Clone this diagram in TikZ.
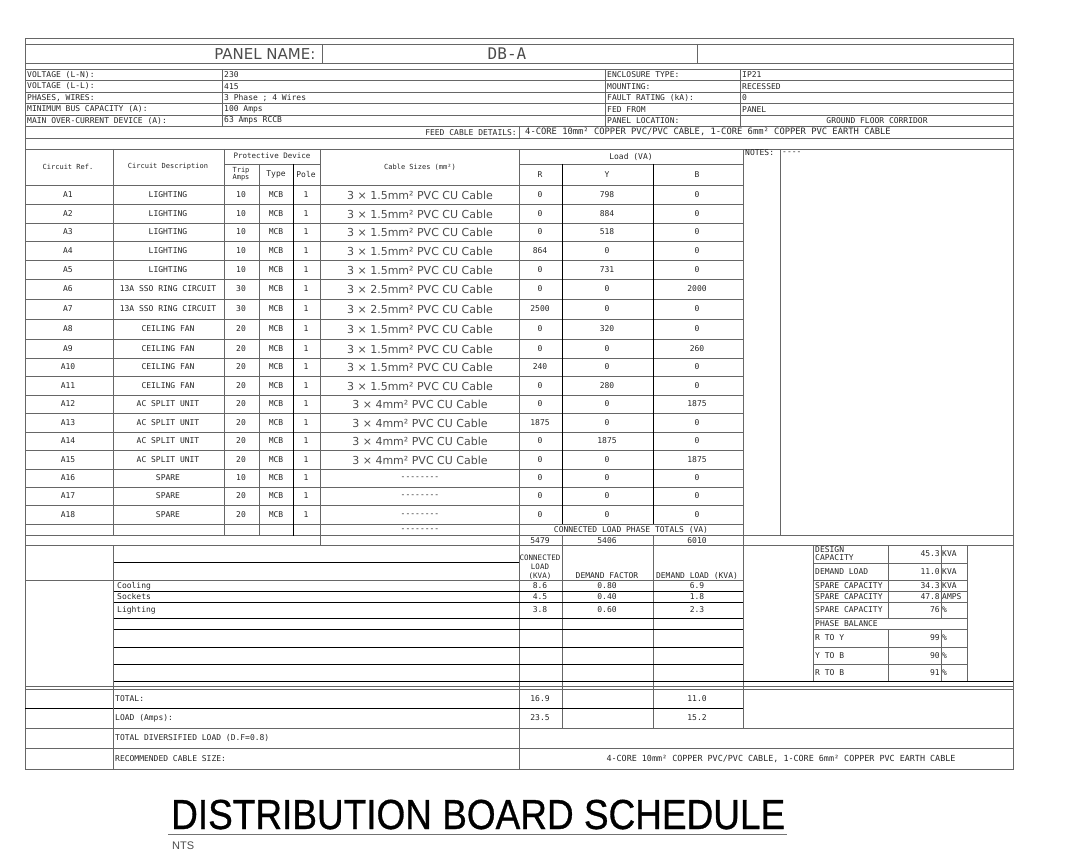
\documentclass[tikz,border=0pt]{standalone}
\usepackage{fontspec}
\setmainfont{DejaVu Sans}
\newfontfamily\cadfont{DejaVu Sans Mono}
\newfontfamily\titlefont[FakeBold=0.8]{Liberation Sans}
\newfontfamily\ntsfont{Liberation Sans}
\tikzset{
  cad/.style={font=\cadfont\fontsize{8}{9}\selectfont, text=black!85, inner sep=0pt},
  cadl/.style={cad, anchor=west},
  cadr/.style={cad, anchor=east},
  hdr/.style={font=\cadfont\fontsize{8}{9}\selectfont, text=black!85, inner sep=0pt, anchor=west},
  cable/.style={font=\fontsize{11}{12}\selectfont, text=black!70, inner sep=0pt},
  rule/.style={draw=black!60, line width=0.5pt},
  darkrule/.style={draw=black, line width=0.6pt}
}
\begin{document}
\begin{tikzpicture}[x=1pt,y=-1pt]
      \useasboundingbox (0,0) rectangle (1080,864);
      % frame and panel name
      \draw[rule] (25,38) rectangle (1013,769);
      \draw[rule] (25,44) -- (1013,44) (25,63) -- (1013,63) (25,69) -- (1013,69);
      \draw[rule] (322,44) -- (322,63) (697,44) -- (697,63);
      \draw
        (319,54) node[anchor=east, font=\fontsize{15}{16}\selectfont, text=black!70] (pname){PANEL NAME:}
        (507,54) node[font=\cadfont\fontsize{16}{17}\selectfont, text=black!70] (pdb){DB-A};
      % panel data
      \draw[rule] (25,80.5) -- (1013,80.5) (25,92) -- (1013,92) (25,103.5) -- (1013,103.5)
        (25,115) -- (1013,115) (25,126.5) -- (1013,126.5) (25,138) -- (1013,138);
      \draw[rule] (222,69) -- (222,126.5) (605,69) -- (605,126.5) (740,69) -- (740,126.5)
        (519,126.5) -- (519,138);
      \draw
        (27,74.75) node[hdr] (vln){VOLTAGE (L-N):}
        (27,86.25) node[hdr] (vll){VOLTAGE (L-L):}
        (27,97.75) node[hdr] (phw){PHASES, WIRES:}
        (27,109.25) node[hdr] (bus){MINIMUM BUS CAPACITY (A):}
        (27,120.75) node[hdr] (moc){MAIN OVER-CURRENT DEVICE (A):}
        (224,74.75) node[hdr] (vlnv){230}
        (224,86.25) node[hdr] (vllv){415}
        (224,97.75) node[hdr] (phwv){3 Phase ; 4 Wires}
        (224,109.25) node[hdr] (busv){100 Amps}
        (224,120.75) node[hdr] (mocv){63 Amps RCCB}
        (607,74.75) node[hdr] (enc){ENCLOSURE TYPE:}
        (607,86.25) node[hdr] (mnt){MOUNTING:}
        (607,97.75) node[hdr] (flt){FAULT RATING (kA):}
        (607,109.25) node[hdr] (fed){FED FROM}
        (607,120.75) node[hdr] (loc){PANEL LOCATION:}
        (742,74.75) node[hdr] (encv){IP21}
        (742,86.25) node[hdr] (mntv){RECESSED}
        (742,97.75) node[hdr] (fltv){0}
        (742,109.25) node[hdr] (fedv){PANEL}
        (877,120.75) node[hdr, anchor=center] (locv){GROUND FLOOR CORRIDOR}
        (517,132.25) node[hdr, anchor=east] (feed){FEED CABLE DETAILS:}
        (708,132.25) node[hdr, anchor=center, font=\cadfont\fontsize{8.8}{9}\selectfont] (feedv){4-CORE 10mm² COPPER PVC/PVC CABLE, 1-CORE 6mm² COPPER PVC EARTH CABLE};
      % circuit table grid
      \draw[rule] (25,149) -- (1013,149) (224,164) -- (320,164) (519,164) -- (743,164) (25,185) -- (743,185);
      \draw[rule] (25,204.5) -- (743,204.5) (25,223) -- (743,223) (25,241.5) -- (743,241.5)
        (25,260.5) -- (743,260.5) (25,279.5) -- (743,279.5) (25,299) -- (743,299)
        (25,319) -- (743,319) (25,339) -- (743,339) (25,358) -- (743,358)
        (25,376.5) -- (743,376.5) (25,395) -- (743,395) (25,413.5) -- (743,413.5)
        (25,432) -- (743,432) (25,450.5) -- (743,450.5) (25,469) -- (743,469)
        (25,487) -- (743,487) (25,505.5) -- (743,505.5) (25,524) -- (743,524)
        (25,535.5) -- (1013,535.5) (25,545) -- (1013,545);
      \draw[rule] (113,149) -- (113,535.5) (224,149) -- (224,535.5) (259,164) -- (259,535.5)
        (320,149) -- (320,545) (519,149) -- (519,769) (743,149) -- (743,728) (780,149) -- (780,535.5)
        (562,535.5) -- (562,728) (653,535.5) -- (653,728);
      \draw[darkrule] (293,164) -- (293,535.5) (562,164) -- (562,524) (653,164) -- (653,524);
      % table header
      \draw
        (68,167) node[cad, font=\cadfont\fontsize{7}{8}\selectfont] (href){Circuit Ref.}
        (168,167) node[cad, font=\cadfont\fontsize{7}{8}\selectfont] (hdesc){Circuit Description}
        (272,156) node[cad, font=\cadfont\fontsize{7.5}{8}\selectfont] (hprot){Protective Device}
        (241,174) node[cad, font=\cadfont\fontsize{7}{7}\selectfont, align=center] (htrip){Trip\\Amps}
        (276,174) node[cad] (htype){Type}
        (306,174) node[cad] (hpole){Pole}
        (420,167) node[cad, font=\cadfont\fontsize{7}{8}\selectfont] (hcable){Cable Sizes (mm²)}
        (631,157) node[cad] (hload){Load (VA)}
        (540,175) node[cad] (hr){R}
        (607,175) node[cad] (hy){Y}
        (697,175) node[cad] (hb){B}
        (745,153) node[cadl] (notes){NOTES:}
        (782,153) node[cadl] (notesv){----};
      % circuits
      \draw (68,195) node[cad] (a1ref){A1} (168,195) node[cad] (a1desc){LIGHTING} (241,195) node[cad] (a1trip){10} (276,195) node[cad] (a1type){MCB} (306,195) node[cad] (a1pole){1}
        (420,195) node[cable] (a1cable){3 × 1.5mm² PVC CU Cable} (540,195) node[cad] (a1r){0} (607,195) node[cad] (a1y){798} (697,195) node[cad] (a1b){0};
      \draw (68,214) node[cad] (a2ref){A2} (168,214) node[cad] (a2desc){LIGHTING} (241,214) node[cad] (a2trip){10} (276,214) node[cad] (a2type){MCB} (306,214) node[cad] (a2pole){1}
        (420,214) node[cable] (a2cable){3 × 1.5mm² PVC CU Cable} (540,214) node[cad] (a2r){0} (607,214) node[cad] (a2y){884} (697,214) node[cad] (a2b){0};
      \draw (68,232) node[cad] (a3ref){A3} (168,232) node[cad] (a3desc){LIGHTING} (241,232) node[cad] (a3trip){10} (276,232) node[cad] (a3type){MCB} (306,232) node[cad] (a3pole){1}
        (420,232) node[cable] (a3cable){3 × 1.5mm² PVC CU Cable} (540,232) node[cad] (a3r){0} (607,232) node[cad] (a3y){518} (697,232) node[cad] (a3b){0};
      \draw (68,251) node[cad] (a4ref){A4} (168,251) node[cad] (a4desc){LIGHTING} (241,251) node[cad] (a4trip){10} (276,251) node[cad] (a4type){MCB} (306,251) node[cad] (a4pole){1}
        (420,251) node[cable] (a4cable){3 × 1.5mm² PVC CU Cable} (540,251) node[cad] (a4r){864} (607,251) node[cad] (a4y){0} (697,251) node[cad] (a4b){0};
      \draw (68,270) node[cad] (a5ref){A5} (168,270) node[cad] (a5desc){LIGHTING} (241,270) node[cad] (a5trip){10} (276,270) node[cad] (a5type){MCB} (306,270) node[cad] (a5pole){1}
        (420,270) node[cable] (a5cable){3 × 1.5mm² PVC CU Cable} (540,270) node[cad] (a5r){0} (607,270) node[cad] (a5y){731} (697,270) node[cad] (a5b){0};
      \draw (68,289) node[cad] (a6ref){A6} (168,289) node[cad] (a6desc){13A SSO RING CIRCUIT} (241,289) node[cad] (a6trip){30} (276,289) node[cad] (a6type){MCB} (306,289) node[cad] (a6pole){1}
        (420,289) node[cable] (a6cable){3 × 2.5mm² PVC CU Cable} (540,289) node[cad] (a6r){0} (607,289) node[cad] (a6y){0} (697,289) node[cad] (a6b){2000};
      \draw (68,309) node[cad] (a7ref){A7} (168,309) node[cad] (a7desc){13A SSO RING CIRCUIT} (241,309) node[cad] (a7trip){30} (276,309) node[cad] (a7type){MCB} (306,309) node[cad] (a7pole){1}
        (420,309) node[cable] (a7cable){3 × 2.5mm² PVC CU Cable} (540,309) node[cad] (a7r){2500} (607,309) node[cad] (a7y){0} (697,309) node[cad] (a7b){0};
      \draw (68,329) node[cad] (a8ref){A8} (168,329) node[cad] (a8desc){CEILING FAN} (241,329) node[cad] (a8trip){20} (276,329) node[cad] (a8type){MCB} (306,329) node[cad] (a8pole){1}
        (420,329) node[cable] (a8cable){3 × 1.5mm² PVC CU Cable} (540,329) node[cad] (a8r){0} (607,329) node[cad] (a8y){320} (697,329) node[cad] (a8b){0};
      \draw (68,349) node[cad] (a9ref){A9} (168,349) node[cad] (a9desc){CEILING FAN} (241,349) node[cad] (a9trip){20} (276,349) node[cad] (a9type){MCB} (306,349) node[cad] (a9pole){1}
        (420,349) node[cable] (a9cable){3 × 1.5mm² PVC CU Cable} (540,349) node[cad] (a9r){0} (607,349) node[cad] (a9y){0} (697,349) node[cad] (a9b){260};
      \draw (68,367) node[cad] (a10ref){A10} (168,367) node[cad] (a10desc){CEILING FAN} (241,367) node[cad] (a10trip){20} (276,367) node[cad] (a10type){MCB} (306,367) node[cad] (a10pole){1}
        (420,367) node[cable] (a10cable){3 × 1.5mm² PVC CU Cable} (540,367) node[cad] (a10r){240} (607,367) node[cad] (a10y){0} (697,367) node[cad] (a10b){0};
      \draw (68,386) node[cad] (a11ref){A11} (168,386) node[cad] (a11desc){CEILING FAN} (241,386) node[cad] (a11trip){20} (276,386) node[cad] (a11type){MCB} (306,386) node[cad] (a11pole){1}
        (420,386) node[cable] (a11cable){3 × 1.5mm² PVC CU Cable} (540,386) node[cad] (a11r){0} (607,386) node[cad] (a11y){280} (697,386) node[cad] (a11b){0};
      \draw (68,404) node[cad] (a12ref){A12} (168,404) node[cad] (a12desc){AC SPLIT UNIT} (241,404) node[cad] (a12trip){20} (276,404) node[cad] (a12type){MCB} (306,404) node[cad] (a12pole){1}
        (420,404) node[cable] (a12cable){3 × 4mm² PVC CU Cable} (540,404) node[cad] (a12r){0} (607,404) node[cad] (a12y){0} (697,404) node[cad] (a12b){1875};
      \draw (68,423) node[cad] (a13ref){A13} (168,423) node[cad] (a13desc){AC SPLIT UNIT} (241,423) node[cad] (a13trip){20} (276,423) node[cad] (a13type){MCB} (306,423) node[cad] (a13pole){1}
        (420,423) node[cable] (a13cable){3 × 4mm² PVC CU Cable} (540,423) node[cad] (a13r){1875} (607,423) node[cad] (a13y){0} (697,423) node[cad] (a13b){0};
      \draw (68,441) node[cad] (a14ref){A14} (168,441) node[cad] (a14desc){AC SPLIT UNIT} (241,441) node[cad] (a14trip){20} (276,441) node[cad] (a14type){MCB} (306,441) node[cad] (a14pole){1}
        (420,441) node[cable] (a14cable){3 × 4mm² PVC CU Cable} (540,441) node[cad] (a14r){0} (607,441) node[cad] (a14y){1875} (697,441) node[cad] (a14b){0};
      \draw (68,460) node[cad] (a15ref){A15} (168,460) node[cad] (a15desc){AC SPLIT UNIT} (241,460) node[cad] (a15trip){20} (276,460) node[cad] (a15type){MCB} (306,460) node[cad] (a15pole){1}
        (420,460) node[cable] (a15cable){3 × 4mm² PVC CU Cable} (540,460) node[cad] (a15r){0} (607,460) node[cad] (a15y){0} (697,460) node[cad] (a15b){1875};
      \draw (68,478) node[cad] (a16ref){A16} (168,478) node[cad] (a16desc){SPARE} (241,478) node[cad] (a16trip){10} (276,478) node[cad] (a16type){MCB} (306,478) node[cad] (a16pole){1}
        (420,478) node[cad] (a16cable){--------} (540,478) node[cad] (a16r){0} (607,478) node[cad] (a16y){0} (697,478) node[cad] (a16b){0};
      \draw (68,496) node[cad] (a17ref){A17} (168,496) node[cad] (a17desc){SPARE} (241,496) node[cad] (a17trip){20} (276,496) node[cad] (a17type){MCB} (306,496) node[cad] (a17pole){1}
        (420,496) node[cad] (a17cable){--------} (540,496) node[cad] (a17r){0} (607,496) node[cad] (a17y){0} (697,496) node[cad] (a17b){0};
      \draw (68,515) node[cad] (a18ref){A18} (168,515) node[cad] (a18desc){SPARE} (241,515) node[cad] (a18trip){20} (276,515) node[cad] (a18type){MCB} (306,515) node[cad] (a18pole){1}
        (420,515) node[cad] (a18cable){--------} (540,515) node[cad] (a18r){0} (607,515) node[cad] (a18y){0} (697,515) node[cad] (a18b){0};
      \draw
        (420,530) node[cad] (sparecable){--------}
        (631,529.5) node[cad] (ptotal){CONNECTED LOAD PHASE TOTALS (VA)}
        (540,540.5) node[cad] (totr){5479}
        (607,540.5) node[cad] (toty){5406}
        (697,540.5) node[cad] (totb){6010};
      % load summary
      \draw[darkrule] (113,562) -- (519,562) (113,591) -- (743,591) (113,602) -- (743,602)
        (113,618) -- (743,618) (113,629) -- (743,629) (113,647) -- (743,647) (113,664) -- (743,664)
        (113,681) -- (1013,681) (25,708) -- (743,708);
      \draw[rule] (25,580) -- (743,580) (25,686) -- (1013,686) (25,689) -- (1013,689)
        (25,728) -- (1013,728) (25,748) -- (1013,748) (113,545) -- (113,769);
      \draw
        (540,567) node[cad, align=center, font=\cadfont\fontsize{7.5}{9}\selectfont] (conn){CONNECTED\\LOAD\\(KVA)}
        (607,576) node[cad] (dfac){DEMAND FACTOR}
        (697,576) node[cad] (dload){DEMAND LOAD (KVA)}
        (117,586) node[cadl] (cool){Cooling}
        (540,586) node[cad] (coolc){8.6} (607,586) node[cad] (coolf){0.80} (697,586) node[cad] (coold){6.9}
        (117,597) node[cadl] (sock){Sockets}
        (540,597) node[cad] (sockc){4.5} (607,597) node[cad] (sockf){0.40} (697,597) node[cad] (sockd){1.8}
        (117,610) node[cadl] (light){Lighting}
        (540,610) node[cad] (lightc){3.8} (607,610) node[cad] (lightf){0.60} (697,610) node[cad] (lightd){2.3}
        (115,698.5) node[cadl] (total){TOTAL:}
        (540,698.5) node[cad] (totalc){16.9} (697,698.5) node[cad] (totald){11.0}
        (115,718) node[cadl] (amps){LOAD (Amps):}
        (540,718) node[cad] (ampsc){23.5} (697,718) node[cad] (ampsd){15.2}
        (115,738) node[cadl] (diver){TOTAL DIVERSIFIED LOAD (D.F=0.8)}
        (115,758.5) node[cadl] (recom){RECOMMENDED CABLE SIZE:}
        (781,758.5) node[cad, font=\cadfont\fontsize{8.4}{9}\selectfont] (recomv){4-CORE 10mm² COPPER PVC/PVC CABLE, 1-CORE 6mm² COPPER PVC EARTH CABLE};
      % capacity box
      \draw[rule] (813,545) -- (813,681) (967,545) -- (967,681) (888,545) -- (888,618) (888,629) -- (888,681)
        (941,545) -- (941,618) (941,629) -- (941,681);
      \draw[rule] (813,563) -- (967,563) (813,580) -- (967,580) (813,591) -- (967,591) (813,602) -- (967,602)
        (813,618) -- (967,618) (813,629) -- (967,629) (813,647) -- (967,647) (813,664) -- (967,664);
      \draw
        (815,554) node[cadl, align=left, font=\cadfont\fontsize{8}{8}\selectfont] (dcap){DESIGN\\CAPACITY}
        (940,554) node[cadr] (dcapv){45.3} (942,554) node[cadl] (dcapu){KVA}
        (815,571.5) node[cadl] (dem){DEMAND LOAD}
        (940,571.5) node[cadr] (demv){11.0} (942,571.5) node[cadl] (demu){KVA}
        (815,585.5) node[cadl] (sp1){SPARE CAPACITY}
        (940,585.5) node[cadr] (sp1v){34.3} (942,585.5) node[cadl] (sp1u){KVA}
        (815,596.5) node[cadl] (sp2){SPARE CAPACITY}
        (940,596.5) node[cadr] (sp2v){47.8} (942,596.5) node[cadl] (sp2u){AMPS}
        (815,610) node[cadl] (sp3){SPARE CAPACITY}
        (940,610) node[cadr] (sp3v){76} (942,610) node[cadl] (sp3u){\%}
        (815,623.5) node[cadl] (pbal){PHASE BALANCE}
        (815,638) node[cadl] (rty){R TO Y}
        (940,638) node[cadr] (rtyv){99} (942,638) node[cadl] (rtyu){\%}
        (815,655.5) node[cadl] (ytb){Y TO B}
        (940,655.5) node[cadr] (ytbv){90} (942,655.5) node[cadl] (ytbu){\%}
        (815,672.5) node[cadl] (rtb){R TO B}
        (940,672.5) node[cadr] (rtbv){91} (942,672.5) node[cadl] (rtbu){\%};
      % title
      \node[anchor=base west, inner sep=0pt, font=\titlefont\fontsize{42}{44}\selectfont] (title) at (171,829) {\scalebox{0.88}[1]{DISTRIBUTION BOARD SCHEDULE}};
      \draw[draw=black!55, line width=0.8pt] (168,834) -- (787,834);
      \node[anchor=west, inner sep=0pt, font=\ntsfont\fontsize{11}{12}\selectfont, text=black!70] (nts) at (172,846) {NTS};
    \end{tikzpicture}
\end{document}
